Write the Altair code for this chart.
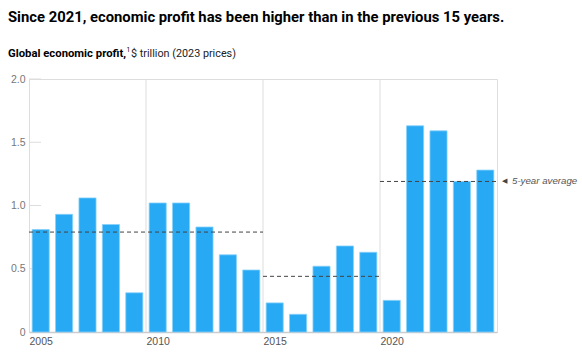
import altair as alt
import pandas as pd

years = list(range(2005, 2025))
profit = [0.81, 0.93, 1.06, 0.85, 0.31, 1.02, 1.02, 0.83, 0.61, 0.49,
          0.23, 0.14, 0.52, 0.68, 0.63, 0.25, 1.63, 1.59, 1.19, 1.28]

avg_start = [2005, 2015, 2020]
avg_end = [2015, 2020, 2025]
avg_value = [0.79, 0.44, 1.19]

grid_years = [2010, 2015, 2020]
label_years = [2005, 2010, 2015, 2020]
y_ticks = [0, 0.5, 1.0, 1.5, 2.0]

FONT = "Liberation Sans, Arial, sans-serif"
TFONT = "Roboto, Liberation Sans, sans-serif"

bars_df = pd.DataFrame({"year": years, "profit": profit})
avg_df = pd.DataFrame({"start": avg_start, "end": avg_end, "value": avg_value})
grid_df = pd.DataFrame({"year": grid_years})
tick_df = pd.DataFrame({"v": y_ticks[1:]})

xscale = alt.Scale(domain=[2005, 2025], nice=False, zero=False)
yscale = alt.Scale(domain=[0, 2], nice=False)

grid = alt.Chart(grid_df).mark_rule(color="#dddddd", strokeWidth=1).encode(
    x=alt.X("year:Q", scale=xscale),
    y=alt.value(0),
    y2=alt.value(253),
)

yticks = alt.Chart(tick_df).mark_rule(color="#dddddd", strokeWidth=1).encode(
    y=alt.Y("v:Q", scale=yscale),
    x=alt.value(0),
    x2=alt.value(12),
)

bars = alt.Chart(bars_df).transform_calculate(
    x0="datum.year + 0.135", x1="datum.year + 0.865"
).mark_rect(color="#27A9F3", stroke="#86D0FA", strokeWidth=0.8).encode(
    x=alt.X("x0:Q", scale=xscale,
            axis=alt.Axis(values=label_years, format="d", title=None, grid=False,
                          ticks=False, domain=True, domainColor="#cccccc",
                          domainWidth=1.5, labelAlign="left", labelFont=FONT,
                          labelFontSize=10.5, labelColor="#555555", labelPadding=4)),
    x2="x1:Q",
    y=alt.Y("profit:Q", scale=yscale,
            axis=alt.Axis(values=y_ticks, title=None, grid=False, ticks=False,
                          domain=False, labelFont=FONT, labelFontSize=10.5,
                          labelColor="#777777", labelPadding=4,
                          labelExpr="datum.value == 0 ? '0' : format(datum.value, '.1f')")),
    y2=alt.value(253),
)

avg = alt.Chart(avg_df).mark_rule(color="#444444", strokeDash=[4, 3], strokeWidth=1).encode(
    x=alt.X("start:Q", scale=xscale),
    x2="end:Q",
    y=alt.Y("value:Q", scale=yscale),
)

last = avg_df.iloc[[-1]]
tri = alt.Chart(last).mark_text(text="◀", align="left", baseline="middle", dx=5,
                                 fontSize=7, color="#444444", font="DejaVu Sans").encode(
    x=alt.X("end:Q", scale=xscale), y=alt.Y("value:Q", scale=yscale))
lab = alt.Chart(last).mark_text(text="5-year average", align="left", baseline="middle",
                                 dx=15, fontSize=9.7, fontStyle="italic", color="#555555",
                                 font=FONT).encode(
    x=alt.X("end:Q", scale=xscale), y=alt.Y("value:Q", scale=yscale))

title = alt.Chart(last).mark_text(
    text="Since 2021, economic profit has been higher than in the previous 15 years.",
    align="left", baseline="alphabetic", fontSize=14.8, fontWeight="bold",
    color="#000000", font=TFONT).encode(x=alt.value(-21), y=alt.value(-57))
sub1 = alt.Chart(last).mark_text(
    text="Global economic profit,", align="left", baseline="alphabetic",
    fontSize=11.3, fontWeight="bold", color="#000000", font=TFONT).encode(
    x=alt.value(-21), y=alt.value(-22))
sub2 = alt.Chart(last).mark_text(
    text="1", align="left", baseline="alphabetic", fontSize=6.5, color="#000000",
    font=TFONT).encode(x=alt.value(97.5), y=alt.value(-27))
sub3 = alt.Chart(last).mark_text(
    text="$ trillion (2023 prices)", align="left", baseline="alphabetic",
    fontSize=10.8, color="#222222", font=TFONT).encode(x=alt.value(102), y=alt.value(-22))

chart = alt.layer(grid, yticks, bars, avg, tri, lab, title, sub1, sub2, sub3).properties(
    width=468, height=253,
    autosize=alt.AutoSizeParams(type="none"),
    padding={"left": 29, "top": 79, "right": 85, "bottom": 23},
).configure_view(stroke=None).configure(background="white")

chart.save("out.html", embed_options={"renderer": "svg", "actions": False})
